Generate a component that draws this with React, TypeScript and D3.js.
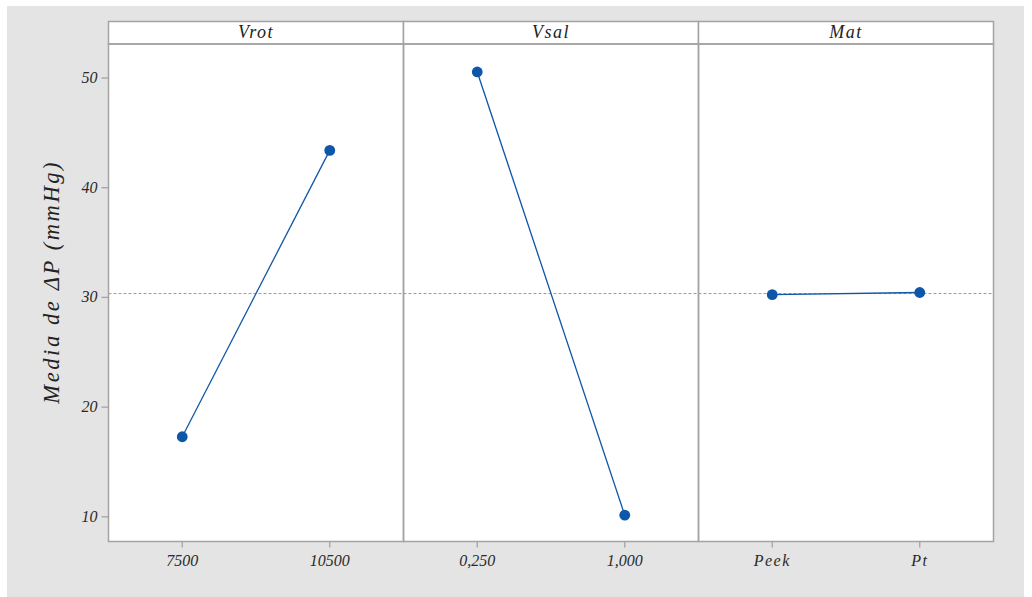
import React from "react";
import * as d3 from "d3";

// Main effects for ΔP: mean response at each factor level
const factors = ["Vrot", "Vsal", "Mat"];
const levelLabels = [
  ["7500", "10500"],
  ["0,250", "1,000"],
  ["Peek", "Pt"],
];
const levelMeans = [
  [17.3, 43.4],
  [50.55, 10.15],
  [30.25, 30.45],
];
const grandMean = 30.35;
const yTicks = [10, 20, 30, 40, 50];
const yDomain = [7.75, 53.1];

const W = 1032;
const H = 597;
const left = 108.5;
const right = 993.5;
const headerTop = 21.5;
const plotTop = 44;
const bottom = 541.5;

const font = "'Liberation Serif', 'DejaVu Serif', serif";
const blue = "#0d56a8";
const frame = "#a3a3a3";

export default function App() {
  const panelW = (right - left) / factors.length;
  const y = d3.scaleLinear().domain(yDomain).range([bottom, plotTop]);

  return (
    <svg
      width={W}
      height={H}
      style={{ position: "absolute", left: 0, top: 0, display: "block" }}
      fontFamily={font}
    >
      <rect x={0} y={0} width={W} height={H} fill="#ffffff" />
      <rect x={7} y={6} width={1017} height={H - 6} fill="#e4e4e4" />

      {/* plot area */}
      <rect x={left} y={plotTop} width={right - left} height={bottom - plotTop} fill="#ffffff" />

      {/* grand mean reference */}
      <line
        x1={left}
        x2={right}
        y1={y(grandMean)}
        y2={y(grandMean)}
        stroke="#9a9a9a"
        strokeWidth={1}
        strokeDasharray="3,2"
      />

      {factors.map((f, i) => {
        const x0 = left + i * panelW;
        const x = d3.scalePoint<string>().domain(levelLabels[i]).range([x0, x0 + panelW]).padding(0.5);
        const pts = levelLabels[i].map((lab, j) => [x(lab) as number, y(levelMeans[i][j])] as [number, number]);
        const line = d3.line()(pts) as string;
        return (
          <g key={f}>
            {/* strip header */}
            <rect x={x0} y={headerTop} width={panelW} height={plotTop - headerTop} fill="#ffffff" stroke={frame} strokeWidth={1.5} />
            <text
              x={x0 + panelW / 2}
              y={38}
              textAnchor="middle"
              fontSize={18}
              fontStyle="italic"
              letterSpacing={1.5}
              fill="#222"
            >
              {f}
            </text>
            <rect x={x0} y={plotTop} width={panelW} height={bottom - plotTop} fill="none" stroke={frame} strokeWidth={1.5} />
            <path d={line} fill="none" stroke={blue} strokeWidth={1.3} />
            {pts.map((p, j) => (
              <circle key={j} cx={p[0]} cy={p[1]} r={5.4} fill={blue} />
            ))}
            {levelLabels[i].map((lab) => (
              <g key={lab}>
                <line x1={x(lab)} x2={x(lab)} y1={bottom} y2={bottom + 6} stroke={frame} strokeWidth={1.3} />
                <text
                  x={x(lab)}
                  y={566}
                  textAnchor="middle"
                  fontSize={16}
                  fontStyle="italic"
                  letterSpacing={i === 2 ? 1.5 : 0}
                  fill="#2a2a2a"
                >
                  {lab}
                </text>
              </g>
            ))}
          </g>
        );
      })}

      {/* y axis ticks */}
      {yTicks.map((t) => (
        <g key={t}>
          <line x1={left - 7} x2={left} y1={y(t)} y2={y(t)} stroke={frame} strokeWidth={1.3} />
          <text x={left - 11} y={y(t) + 5} textAnchor="end" fontSize={16} fontStyle="italic" fill="#2a2a2a">
            {t}
          </text>
        </g>
      ))}

      <text
        transform={`translate(59, ${(plotTop + bottom) / 2 - 11}) rotate(-90)`}
        textAnchor="middle"
        fontSize={22.5}
        fontStyle="italic"
        letterSpacing={2.6}
        fill="#222"
      >
        Media de ΔP (mmHg)
      </text>
    </svg>
  );
}
